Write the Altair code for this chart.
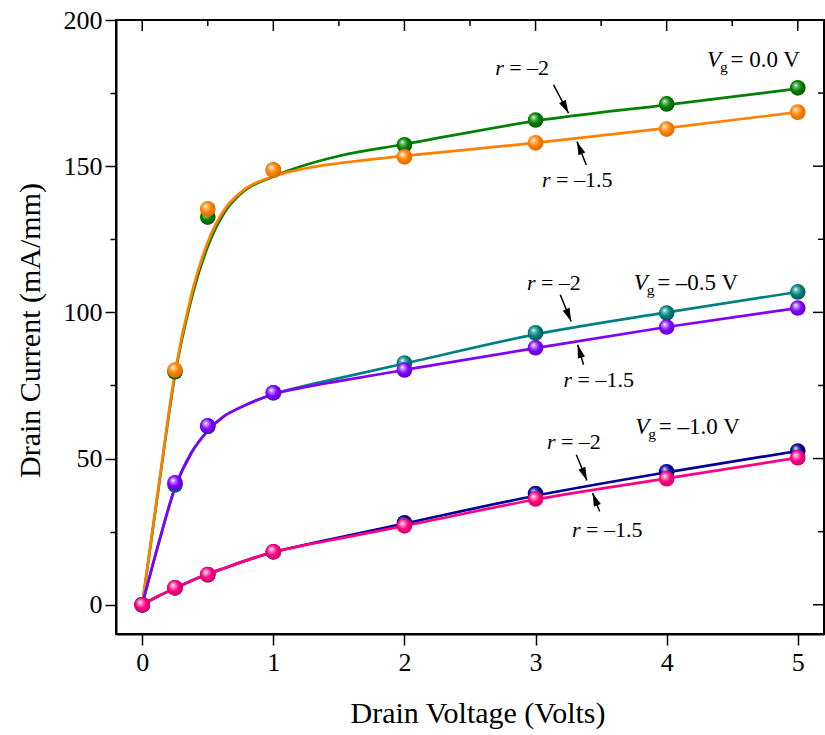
import math
import altair as alt
import pandas as pd

# ---- measured points (drain voltage in V, drain current in mA/mm) ----
vd = [0, 0.25, 0.5, 1, 2, 3, 4, 5]
pts_vg0_r2 = [0, 79.7, 132.6, 148.7, 157.3, 165.8, 171.3, 176.8]
pts_vg0_r15 = [0, 80.3, 135.4, 148.7, 153.2, 158.0, 162.7, 168.5]
pts_vg05_r2 = [0, 41.0, 61.0, 72.5, 82.7, 93.0, 99.8, 107.0]
pts_vg05_r15 = [0, 41.7, 61.2, 72.5, 80.3, 87.9, 95.0, 101.5]
pts_vg10_r2 = [0, 5.8, 10.3, 18.1, 28.0, 38.0, 45.5, 52.6]
pts_vg10_r15 = [0, 5.8, 10.3, 18.1, 27.0, 36.2, 43.1, 50.3]

# ---- model curves ----
fit_v = [0, 0.125, 0.25, 0.375, 0.5, 0.625, 0.75, 1.0, 1.25, 1.5, 2, 3, 4, 5]
fit_vg0_r2 = [0, 40, 78.5, 104.5, 122.5, 134, 140.5, 146.5, 150.5, 153.5, 157.5, 165.5, 171, 176.5]
fit_vg0_r15 = [0, 40.5, 79.5, 106, 124, 135, 141, 146.5, 149.3, 151, 153.5, 158, 163, 168.5]
fit_vg05_r2 = [0, 21, 40, 52, 59.5, 64.5, 67.5, 72, 75, 77.5, 82.5, 92.5, 100, 107]
fit_vg05_r15 = [0, 21, 40, 52, 59.5, 64.5, 67.5, 72, 74.5, 76.5, 80.3, 87.8, 95, 101.5]
fit_vg10_r2 = [0, 3, 5.6, 8.2, 10.5, 12.5, 14.5, 18, 20.6, 23, 27.8, 37.3, 45.3, 52.6]
fit_vg10_r15 = [0, 3, 5.6, 8.2, 10.5, 12.5, 14.5, 18, 20.5, 22.6, 27, 36, 43.2, 50.3]

# ---- annotations ----
r_x = [2.692, 3.049, 2.934, 3.214, 3.087, 3.278]
r_y = [181.2, 143.0, 107.5, 74.6, 53.2, 23.1]
r_rest = ["= \u20132", "= \u20131.5", "= \u20132", "= \u20131.5", "= \u20132", "= \u20131.5"]
vg_x = [4.308, 3.748, 3.761]
vg_y = [184.0, 107.7, 58.5]
vg_rest = ["= 0.0 V", "= \u20130.5 V", "= \u20131.0 V"]
arrow_x0 = [3.137, 3.387, 3.188, 3.366, 3.311, 3.489]
arrow_y0 = [177.8, 150.4, 106.0, 82.1, 51.3, 31.9]
arrow_x1 = [3.252, 3.316, 3.272, 3.321, 3.392, 3.435]
arrow_y1 = [168.1, 158.4, 96.9, 88.9, 42.5, 38.2]

x_ticks = [i * 0.5 for i in range(11)]
y_ticks = [i * 25 for i in range(9)]

W, H = 708, 614
X_DOM = [-0.2, 5.2]
Y_DOM = [-10, 200]
FONT = "Liberation Serif"

xs = alt.Scale(domain=X_DOM, nice=False, zero=False)
ys = alt.Scale(domain=Y_DOM, nice=False, zero=False)

x_axis = alt.Axis(
    values=x_ticks, grid=False, title="Drain Voltage (Volts)", format="d",
    labelExpr="datum.value % 1 === 0 ? datum.label : ''",
    tickSize={"condition": {"test": "datum.value % 1 === 0", "value": 11}, "value": 6},
    labelPadding=4, titleX=361.5, titleY=88, titleBaseline="alphabetic",
)
y_axis = alt.Axis(
    values=y_ticks, grid=False, title="Drain Current (mA/mm)", format="d",
    labelExpr="datum.value % 50 === 0 ? datum.label : ''",
    tickSize={"condition": {"test": "datum.value % 50 === 0", "value": 11}, "value": 6},
    labelPadding=3, titleX=-77, titleY=310, titleBaseline="alphabetic",
)


def X(field):
    return alt.X(f"{field}:Q", scale=xs, axis=x_axis)


def Y(field):
    return alt.Y(f"{field}:Q", scale=ys, axis=y_axis)


def sphere(base, light, dark):
    return alt.RadialGradient(
        gradient="radial", x1=0.36, y1=0.32, r1=0.0, x2=0.45, y2=0.45, r2=0.6,
        stops=[
            alt.GradientStop(color="#ffffff", offset=0.0),
            alt.GradientStop(color=light, offset=0.2),
            alt.GradientStop(color=base, offset=0.55),
            alt.GradientStop(color=dark, offset=1.0),
        ],
    )


series = [
    # (curve, points, colour, light, dark)
    (fit_vg0_r2, pts_vg0_r2, "#008000", "#70c070", "#005400"),
    (fit_vg0_r15, pts_vg0_r15, "#ff8000", "#ffc080", "#d86800"),
    (fit_vg05_r2, pts_vg05_r2, "#008080", "#70c0c0", "#005454"),
    (fit_vg05_r15, pts_vg05_r15, "#8000ff", "#c090ff", "#5c00c0"),
    (fit_vg10_r2, pts_vg10_r2, "#000099", "#7070d0", "#000066"),
    (fit_vg10_r15, pts_vg10_r15, "#ff0080", "#ff90c8", "#cc0066"),
]

layers = []
# curves first, then the markers on top of them
for fit, _, col, _, _ in series:
    df = pd.DataFrame({"v": fit_v, "i": fit})
    layers.append(
        alt.Chart(df).mark_line(color=col, strokeWidth=2.7, interpolate="monotone")
        .encode(x=X("v"), y=Y("i"))
    )
for _, pts, col, light, dark in series:
    df = pd.DataFrame({"v": vd, "i": pts})
    layers.append(
        alt.Chart(df).mark_circle(size=245, opacity=1, fill=sphere(col, light, dark))
        .encode(x=X("v"), y=Y("i"))
    )

# arrows pointing from the labels to the curves
px_per_x = W / (X_DOM[1] - X_DOM[0])
px_per_y = H / (Y_DOM[1] - Y_DOM[0])
angles = []
for a, b, c, d in zip(arrow_x0, arrow_y0, arrow_x1, arrow_y1):
    dx = (c - a) * px_per_x
    dy = -(d - b) * px_per_y
    angles.append(math.degrees(math.atan2(dx, -dy)) % 360)
arrows = pd.DataFrame({"x0": arrow_x0, "y0": arrow_y0, "x1": arrow_x1, "y1": arrow_y1, "ang": angles})
layers.append(
    alt.Chart(arrows).mark_rule(color="black", strokeWidth=1.5)
    .encode(x=X("x0"), y=Y("y0"), x2="x1:Q", y2="y1:Q")
)
layers.append(
    alt.Chart(arrows).mark_point(
        shape="M0,0L-0.28,1L0.28,1Z", filled=True, color="black", opacity=1, size=700
    ).encode(x=X("x1"), y=Y("y1"), angle=alt.Angle("ang:Q", scale=None))
)

# "r = ..." labels
rlab = pd.DataFrame({"x": r_x, "y": r_y, "rest": r_rest})
layers.append(
    alt.Chart(rlab).mark_text(text="r", font=FONT, fontSize=22, fontStyle="italic",
                              align="left", baseline="alphabetic", color="black")
    .encode(x=X("x"), y=Y("y"))
)
layers.append(
    alt.Chart(rlab).mark_text(font=FONT, fontSize=22, align="left", baseline="alphabetic",
                              dx=14, color="black")
    .encode(x=X("x"), y=Y("y"), text="rest:N")
)

# "V_g = ..." labels
vlab = pd.DataFrame({"x": vg_x, "y": vg_y, "rest": vg_rest})
layers.append(
    alt.Chart(vlab).mark_text(text="V", font=FONT, fontSize=23, fontStyle="italic",
                              align="left", baseline="alphabetic", color="black")
    .encode(x=X("x"), y=Y("y"))
)
layers.append(
    alt.Chart(vlab).mark_text(text="g", font=FONT, fontSize=15.5, align="left",
                              baseline="alphabetic", dx=13, dy=5, color="black")
    .encode(x=X("x"), y=Y("y"))
)
layers.append(
    alt.Chart(vlab).mark_text(font=FONT, fontSize=23, align="left", baseline="alphabetic",
                              dx=23.5, color="black")
    .encode(x=X("x"), y=Y("y"), text="rest:N")
)

# inward ticks on the top and right edges of the frame
top_major = pd.DataFrame({"t": [v for v in x_ticks if v % 1 == 0]})
top_minor = pd.DataFrame({"t": [v for v in x_ticks if v % 1 != 0]})
right_major = pd.DataFrame({"t": [v for v in y_ticks if v % 50 == 0]})
right_minor = pd.DataFrame({"t": [v for v in y_ticks if v % 50 != 0]})
for df, ln in ((top_major, 11), (top_minor, 6)):
    layers.append(
        alt.Chart(df).mark_rule(color="black", strokeWidth=1.5)
        .encode(x=X("t"), y=alt.value(0), y2=alt.value(ln))
    )
for df, ln in ((right_major, 11), (right_minor, 6)):
    layers.append(
        alt.Chart(df).mark_rule(color="black", strokeWidth=1.5)
        .encode(y=Y("t"), x=alt.value(W), x2=alt.value(W - ln))
    )

chart = (
    alt.layer(*layers)
    .properties(
        width=W, height=H,
        padding={"left": 116, "top": 20, "right": 1, "bottom": 101},
        autosize=alt.AutoSizeParams(type="none"),
    )
    .configure_view(stroke="black", strokeWidth=2)
    .configure_axis(
        domainColor="black", domainWidth=2, tickColor="black", tickWidth=1.5,
        labelFont=FONT, labelFontSize=26, labelColor="black",
        titleFont=FONT, titleFontSize=30, titleFontWeight="normal", titleColor="black",
    )
)

chart.save("out.html", embed_options={"renderer": "svg", "actions": False})
